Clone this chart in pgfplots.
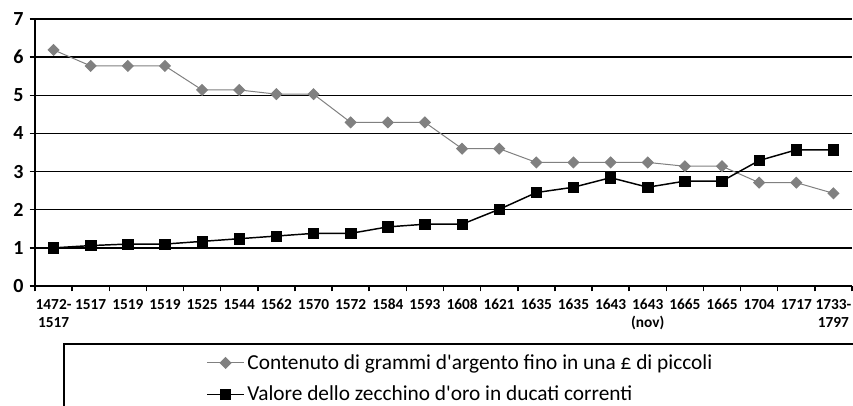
\documentclass[border=0pt]{standalone}
\usepackage{fontspec}
\setmainfont{Carlito}
\usepackage{pgfplots}
\pgfplotsset{compat=1.18}
\definecolor{greyser}{HTML}{808080}
\begin{document}
\begin{tikzpicture}
\clip (0pt,0pt) rectangle (639.75pt,303.75pt);
\useasboundingbox (0pt,0pt) rectangle (639.75pt,303.75pt);
\draw[line width=1pt] (48pt,-15pt) rectangle (675pt,45.75pt);
\begin{axis}[
  at={(26.25pt,89.25pt)}, anchor=south west,
  scale only axis,
  width=612.75pt, height=200.25pt,
  xmin=-0.5, xmax=21.5,
  ymin=0, ymax=7,
  ytick={0,1,...,7},
  xtick={0,...,21},
  xticklabels={{1472-\\1517},1517,1519,1519,1525,1544,1562,1570,1572,1584,1593,1608,1621,1635,1635,1643,{1643\\(nov)},1665,1665,1704,1717,{1733-\\1797}},
  minor xtick={-0.5,0.5,...,21.5},
  major x tick style={draw=none},
  minor tick length=4pt,
  major tick length=4pt,
  tick align=outside,
  tick style={black, line width=1.1pt},
  axis x line*=bottom, axis y line*=left,
  axis line style={line width=1.1pt, black},
  ymajorgrids, grid style={black, line width=1.1pt},
  /pgf/number format/assume math mode=true,
  yticklabel style={font=\bfseries\fontsize{15}{16}\selectfont, xshift=-1pt},
  xticklabel style={font=\bfseries\fontsize{11.5}{13.5}\selectfont, align=center, yshift=-2.5pt},
  clip=false,
  legend style={at={(0.2093,-0.2455)}, anchor=north west, draw=none, fill=none, inner sep=0pt,
    font=\fontsize{16}{17}\selectfont, row sep=7pt, legend cell align=left},
  legend image code/.code={\draw[mark repeat=2,mark phase=2,#1] plot coordinates {(0pt,0pt)(13.9pt,0pt)(27.75pt,0pt)};},
]
\addplot[greyser, line width=0.75pt, mark=square*, mark size=2.85pt, mark options={rotate=45, fill=greyser, draw=greyser}]
coordinates {(0,6.19)(1,5.77)(2,5.77)(3,5.77)(4,5.14)(5,5.14)(6,5.03)(7,5.03)(8,4.29)(9,4.29)(10,4.29)(11,3.60)(12,3.60)(13,3.24)(14,3.24)(15,3.24)(16,3.24)(17,3.14)(18,3.14)(19,2.71)(20,2.71)(21,2.43)};
\addlegendentry{Contenuto di grammi d\textquotesingle argento fino in una £ di piccoli}
\addplot[black, line width=1.1pt, mark=square*, mark size=3.9pt, mark options={fill=black, line width=0.5pt}]
coordinates {(0,1.00)(1,1.06)(2,1.10)(3,1.10)(4,1.17)(5,1.24)(6,1.31)(7,1.38)(8,1.38)(9,1.55)(10,1.62)(11,1.62)(12,2.01)(13,2.45)(14,2.59)(15,2.84)(16,2.59)(17,2.75)(18,2.75)(19,3.29)(20,3.57)(21,3.57)};
\addlegendentry{Valore dello zecchino d\textquotesingle oro in ducati correnti}
\end{axis}
\end{tikzpicture}
\end{document}
